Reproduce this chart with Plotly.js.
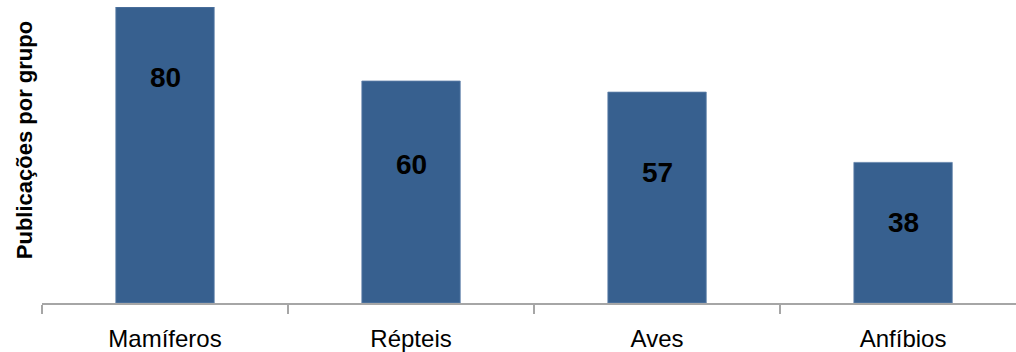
<!DOCTYPE html>
<html>
<head>
<meta charset="utf-8">
<script src="https://cdn.plot.ly/plotly-3.0.1.min.js"></script>
<style>
  html, body { margin: 0; padding: 0; background: #fff; overflow: hidden; }
  #chart { width: 1016px; height: 352px; }
</style>
</head>
<body>
<div id="chart"></div>
<script>
// Publicações por grupo de vertebrados
const grupos = ['Mamíferos', 'Répteis', 'Aves', 'Anfíbios'];
const publicacoes = [80, 60, 57, 38];

// pixel offset of each value label below the top of its bar
const labelShift = [-70, -83, -80, -60];

const trace = {
  type: 'bar',
  x: grupos,
  y: publicacoes,
  width: 0.4,
  marker: { color: '#37608f', line: { color: '#6283ab', width: 0.8 } },
  hoverinfo: 'x+y'
};

const labels = grupos.map((g, i) => ({
  x: g, y: publicacoes[i], xref: 'x', yref: 'y',
  text: String(publicacoes[i]),
  showarrow: false, yshift: labelShift[i],
  xanchor: 'center', yanchor: 'middle',
  font: { family: 'Liberation Sans, Arial, sans-serif', size: 28, color: '#000', weight: 'bold' }
}));

labels.push({
  xref: 'paper', yref: 'paper', x: 0, y: 0.55, xshift: -18,
  xanchor: 'center', yanchor: 'middle', textangle: -90,
  text: '<b>Publicações por grupo</b>', showarrow: false,
  font: { family: 'Liberation Sans, Arial, sans-serif', size: 22, color: '#000' }
});

const layout = {
  width: 1016, height: 352,
  margin: { l: 42, r: 0, t: 7, b: 49, pad: 0 },
  paper_bgcolor: '#fff', plot_bgcolor: '#fff',
  showlegend: false,
  xaxis: {
    type: 'category',
    range: [-0.5, 3.459],
    showline: true, linecolor: '#a6a6a6', linewidth: 1.5,
    ticks: 'outside', tickson: 'boundaries', ticklen: 9, tickcolor: '#a6a6a6', tickwidth: 1.5,
    ticklabelstandoff: 14,
    showgrid: false, zeroline: false,
    tickfont: { family: 'Liberation Sans, Arial, sans-serif', size: 24, color: '#000' }
  },
  yaxis: {
    range: [0, 80],
    showline: false, showgrid: false, zeroline: false,
    showticklabels: false, ticks: ''
  },
  annotations: labels
};

Plotly.newPlot('chart', [trace], layout, { displayModeBar: false, staticPlot: true });
</script>
</body>
</html>
